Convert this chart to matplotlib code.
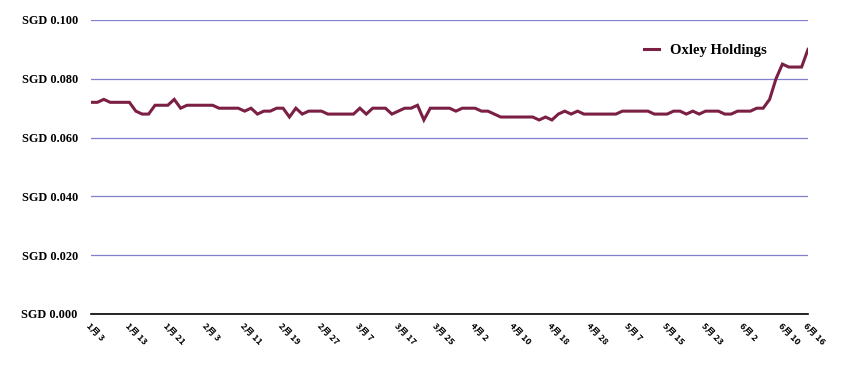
import matplotlib
matplotlib.use("Agg")
import matplotlib.pyplot as plt
from matplotlib.ticker import FixedLocator

series_name = "Oxley Holdings"
prices = [
    0.072, 0.072, 0.073, 0.072, 0.072, 0.072, 0.072, 0.069, 0.068, 0.068,
    0.071, 0.071, 0.071, 0.073, 0.070, 0.071, 0.071, 0.071, 0.071, 0.071,
    0.070, 0.070, 0.070, 0.070, 0.069, 0.070, 0.068, 0.069, 0.069, 0.070,
    0.070, 0.067, 0.070, 0.068, 0.069, 0.069, 0.069, 0.068, 0.068, 0.068,
    0.068, 0.068, 0.070, 0.068, 0.070, 0.070, 0.070, 0.068, 0.069, 0.070,
    0.070, 0.071, 0.066, 0.070, 0.070, 0.070, 0.070, 0.069, 0.070, 0.070,
    0.070, 0.069, 0.069, 0.068, 0.067, 0.067, 0.067, 0.067, 0.067, 0.067,
    0.066, 0.067, 0.066, 0.068, 0.069, 0.068, 0.069, 0.068, 0.068, 0.068,
    0.068, 0.068, 0.068, 0.069, 0.069, 0.069, 0.069, 0.069, 0.068, 0.068,
    0.068, 0.069, 0.069, 0.068, 0.069, 0.068, 0.069, 0.069, 0.069, 0.068,
    0.068, 0.069, 0.069, 0.069, 0.070, 0.070, 0.073, 0.080, 0.085, 0.084,
    0.084, 0.084, 0.090,
]
tick_labels = ["1月 3", "1月 13", "1月 21", "2月 3", "2月 11", "2月 19", "2月 27",
               "3月 7", "3月 17", "3月 25", "4月 2", "4月 10", "4月 18", "4月 28",
               "5月 7", "5月 15", "5月 23", "6月 2", "6月 10", "6月 16"]
y_ticks = [0.0, 0.02, 0.04, 0.06, 0.08, 0.10]

W, H = 845, 373
fig = plt.figure(figsize=(W / 100, H / 100), dpi=100)
ax = fig.add_axes([91 / W, 59 / H, (808 - 91) / W, (314 - 20) / H])

x = list(range(len(prices)))
ax.plot(x, prices, color="#7b1f45", linewidth=2.2, label=series_name,
        solid_joinstyle="miter", zorder=3)

ax.set_xlim(0, len(prices) - 1)
ax.set_ylim(0, 0.1)

# ticks: every 6th point plus the last point
tick_pos = list(range(0, len(prices) - 4, 6)) + [len(prices) - 1]
ax.xaxis.set_major_locator(FixedLocator(tick_pos))
ax.set_xticklabels(tick_labels[:len(tick_pos)], rotation=-45, ha="left", va="top",
                   rotation_mode="anchor",
                   fontdict={"family": ["Noto Sans CJK SC", "DejaVu Sans"],
                             "weight": "bold", "size": 6.4})
ax.tick_params(axis="x", length=0, pad=5.5)

ax.yaxis.set_major_locator(FixedLocator(y_ticks))
ax.set_yticklabels([f"SGD {v:.3f}" for v in y_ticks],
                   fontdict={"family": "Liberation Serif", "weight": "bold", "size": 8.8})
ax.tick_params(axis="y", length=0, pad=9.5)
ax.grid(axis="y", color="#7f7fcc", linewidth=0.9)
ax.set_axisbelow(True)

for s in ["left", "right", "top"]:
    ax.spines[s].set_visible(False)
ax.spines["bottom"].set_color("black")
ax.spines["bottom"].set_linewidth(1.2)
ax.spines["bottom"].set_zorder(4)

leg = ax.legend(loc="center left", bbox_to_anchor=(644 / W, 1 - 50 / H),
                bbox_transform=fig.transFigure, frameon=False,
                handlelength=1.0, handletextpad=0.75, borderpad=0, borderaxespad=0,
                prop={"family": "Liberation Serif", "weight": "bold", "size": 10.5})

fig.savefig("out.png", dpi=100, facecolor="white")
